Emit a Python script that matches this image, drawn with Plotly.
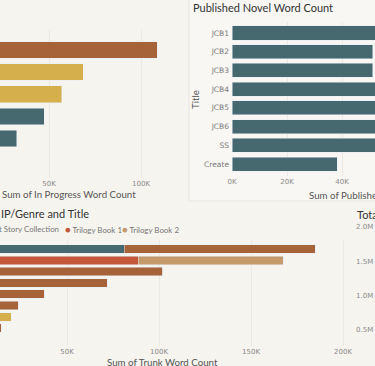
import plotly.graph_objects as go

W, H = 375, 366
BG = "#F6F4EF"
BROWN = "#A66239"
GOLD = "#D5AF4B"
TEAL = "#46686F"
RED = "#C4573A"
TAN = "#C59A6B"

# ---- In Progress Word Count (top-left) ----
ip_titles = ["WIP 1", "WIP 2", "WIP 3", "WIP 4", "WIP 5"]
ip_values = [108700, 68500, 57000, 47300, 32600]
ip_colors = [BROWN, GOLD, GOLD, TEAL, TEAL]

# ---- Published Novel Word Count (top-right) ----
pub_titles = ["JCB1", "JCB2", "JCB3", "JCB4", "JCB5", "JCB6", "SS", "Create"]
pub_values = [58000, 51200, 51200, 55000, 56000, 55500, 57000, 38200]

# ---- Trunk Word Count by IP/Genre and Title (bottom-left) ----
trunk_titles = ["Trunk 1", "Trunk 2", "Trunk 3", "Trunk 4", "Trunk 5", "Trunk 6", "Trunk 7", "Trunk 8"]
trunk_short_story = [81000, 0, 0, 0, 0, 0, 0, 0]
trunk_trilogy1 = [0, 88600, 0, 0, 0, 0, 0, 0]
trunk_trilogy2 = [0, 78800, 0, 0, 0, 0, 0, 0]
trunk_novel = [104000, 0, 102000, 72000, 37500, 23400, 0, 14400]
trunk_novella = [0, 0, 0, 0, 0, 0, 19600, 0]

total_ticks = [0, 500000, 1000000, 1500000, 2000000]
total_ticktext = ["0.0M", "0.5M", "1.0M", "1.5M", "2.0M"]


def px(x):
    return x / W


def py(y):
    return 1 - y / H


fig = go.Figure()

fig.add_trace(go.Bar(y=ip_titles, x=ip_values, orientation="h", marker_color=ip_colors,
                     xaxis="x", yaxis="y", showlegend=False))
fig.add_trace(go.Bar(y=pub_titles, x=pub_values, orientation="h", marker_color=TEAL,
                     xaxis="x2", yaxis="y2", showlegend=False))
for name, vals, col in [("Short Story Collection", trunk_short_story, TEAL),
                        ("Trilogy Book 1", trunk_trilogy1, RED),
                        ("Trilogy Book 2", trunk_trilogy2, TAN),
                        ("Novel", trunk_novel, BROWN),
                        ("Novella", trunk_novella, GOLD)]:
    fig.add_trace(go.Bar(y=trunk_titles, x=vals, orientation="h", marker_color=col, name=name,
                         xaxis="x3", yaxis="y3", showlegend=False))
fig.add_trace(go.Scatter(x=[], y=[], xaxis="x4", yaxis="y4", showlegend=False))

tickfont = dict(family="DejaVu Sans", size=7, color="#8a8a8a")
gridc = "#ECE9E3"
common = dict(automargin=False, zeroline=False, showline=False)

fig.update_layout(
    width=W, height=H, margin=dict(l=0, r=0, t=0, b=0, autoexpand=False),
    paper_bgcolor=BG, plot_bgcolor="rgba(0,0,0,0)",
    barmode="stack", bargap=0.25,
    xaxis=dict(domain=[0, px(175)], range=[23370, 118480], anchor="y",
               tickvals=[50000, 100000], ticktext=["50K", "100K"], tickfont=tickfont,
               showgrid=True, gridcolor=gridc, **common),
    yaxis=dict(domain=[py(178), py(30)], range=[5.79, -0.905], anchor="x", type="category",
               showticklabels=False, showgrid=False, **common),
    xaxis2=dict(domain=[px(232), 1], range=[0, 52000], anchor="y2",
                tickvals=[0, 20000, 40000], ticktext=["0K", "20K", "40K"], tickfont=tickfont,
                showgrid=True, gridcolor=gridc, **common),
    yaxis2=dict(domain=[py(176), py(22)], range=[7.64, -0.588], anchor="x2", type="category",
                tickfont=dict(family="DejaVu Sans", size=7.5, color="#7a7a7a"),
                showgrid=False, ticklabelstandoff=2, **common),
    xaxis3=dict(domain=[0, px(350)], range=[13590, 203800], anchor="y3",
                tickvals=[50000, 100000, 150000, 200000], ticktext=["50K", "100K", "150K", "200K"],
                tickfont=tickfont, showgrid=True, gridcolor=gridc, **common),
    yaxis3=dict(domain=[py(346), py(240)], range=[8.58, -0.796], anchor="x3", type="category",
                showticklabels=False, showgrid=False, **common),
    xaxis4=dict(domain=[0.998, 1], anchor="y4", visible=False, **common),
    yaxis4=dict(domain=[py(364), py(227)], range=[0, 2000000], anchor="x4",
                tickvals=total_ticks, ticktext=total_ticktext, tickfont=tickfont,
                showgrid=False, **common),
)

fig.add_shape(type="rect", xref="paper", yref="paper", x0=px(189), x1=px(390), y0=py(201), y1=py(-5),
              line=dict(color="#E8E5DF", width=1), fillcolor="rgba(255,255,255,0.25)", layer="below")

title_font = dict(family="Lato", size=11, color="#333333")
axis_font = dict(family="Lato", size=9.7, color="#555555")
leg_font = dict(family="Lato", size=7.9, color="#777777")


def ann(text, x, y, font, xanchor="left", **kw):
    fig.add_annotation(text=text, x=px(x), y=py(y), xref="paper", yref="paper",
                       xanchor=xanchor, yanchor="middle", showarrow=False, font=font, **kw)


ann("Published Novel Word Count", 191, 7, title_font)
ann("Title", 195, 100, axis_font, xanchor="center", textangle=-90)
ann("Sum of In Progress Word Count", 0, 194, axis_font)
ann("Sum of Published Novel Word Count", 307, 195, axis_font)
ann("IP/Genre and Title", -1, 213, title_font)
ann("Short Story Collection", 61, 229, leg_font, xanchor="right")
ann(f"<span style='color:{RED};font-size:9.5px'>●</span> Trilogy Book 1", 63, 229, leg_font)
ann(f"<span style='color:{TAN};font-size:9.5px'>●</span> Trilogy Book 2", 120, 229, leg_font)
ann("Sum of Trunk Word Count", 105, 362, axis_font)
ann("Total Word Count", 355, 214, title_font)

fig.write_html("out.html", config={"displayModeBar": False},
               post_script="document.body.style.margin='0';document.body.style.overflow='hidden';")
